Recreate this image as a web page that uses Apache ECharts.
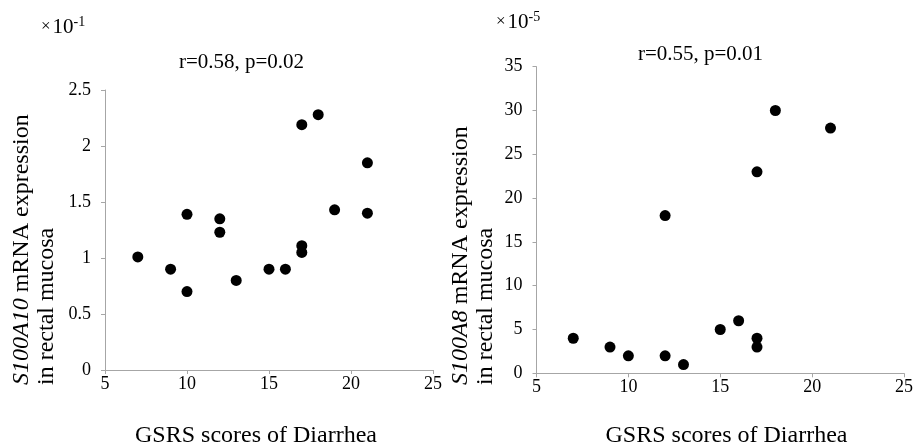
<!DOCTYPE html>
<html>
<head>
<meta charset="utf-8">
<script src="https://cdn.jsdelivr.net/npm/echarts@6/dist/echarts.min.js"></script>
<style>
html,body{margin:0;padding:0;background:#fff;}
#chart{width:916px;height:445px;}
</style>
</head>
<body>
<div id="chart"></div>
<script>
// Left panel: S100A10 (×10^-1) vs GSRS diarrhea score
const leftScores = [7, 9, 10, 10, 12, 12, 13, 15, 16, 17, 17, 17, 18, 19, 21, 21];
const leftExpr   = [1.01, 0.90, 1.39, 0.70, 1.35, 1.23, 0.80, 0.90, 0.90, 2.19, 1.11, 1.05, 2.28, 1.43, 1.85, 1.40];
// Right panel: S100A8 (×10^-5) vs GSRS diarrhea score
const rightScores = [7, 9, 10, 12, 12, 13, 15, 16, 17, 17, 17, 18, 21];
const rightExpr   = [4, 3, 2, 2, 18, 1, 5, 6, 4, 3, 23, 30, 28];

const leftTitle = 'r=0.58, p=0.02';
const rightTitle = 'r=0.55, p=0.01';
const xName = 'GSRS scores of Diarrhea';
const leftGene = 'S100A10';
const rightGene = 'S100A8';
const leftExp = '-1';
const rightExp = '-5';

const FONT = "'Liberation Serif', 'Times New Roman', serif";
const AX = '#a6a6a6';

function pairs(xs, ys) { return xs.map((x, i) => [x, ys[i]]); }

function xAxis(gi) {
  return {
    gridIndex: gi, type: 'value', min: 5, max: 25, interval: 5,
    axisLine: { show: true, lineStyle: { color: AX, width: 1 } },
    axisTick: { show: true, length: 4, lineStyle: { color: AX } },
    splitLine: { show: false },
    axisLabel: { color: '#000', fontFamily: FONT, fontSize: 18, margin: 5 }
  };
}
function yAxis(gi, max, interval) {
  return {
    gridIndex: gi, type: 'value', min: 0, max: max, interval: interval,
    axisLine: { show: true, lineStyle: { color: AX, width: 1 } },
    axisTick: { show: true, length: 4, lineStyle: { color: AX } },
    splitLine: { show: false },
    axisLabel: { color: '#000', fontFamily: FONT, fontSize: 18, margin: 14 }
  };
}

function yNameText(x, gene) {
  return {
    type: 'text', x: x, y: 385, rotation: Math.PI / 2,
    style: {
      text: '{i|' + gene + '} mRNA expression\nin rectal mucosa',
      fontFamily: FONT, fontSize: 24, fill: '#000',
      align: 'left', verticalAlign: 'middle', lineHeight: 25,
      rich: { i: { fontStyle: 'italic', fontFamily: FONT, fontSize: 24, fill: '#000' } }
    }
  };
}
function plain(x, y, text, size, align) {
  return {
    type: 'text', x: x, y: y,
    style: { text: text, fontFamily: FONT, fontSize: size, fill: '#000', align: align || 'center', verticalAlign: 'middle' }
  };
}
function expText(x, y, exp) {
  return {
    type: 'text', x: x, y: y,
    style: {
      text: '{x|×}{n|10}{s|' + exp + '}',
      fontFamily: FONT, fontSize: 20, fill: '#000', align: 'left', verticalAlign: 'middle',
      rich: {
        x: { fontFamily: FONT, fontSize: 17, fill: '#000', padding: [0, 2, 0, 0] },
        n: { fontFamily: FONT, fontSize: 21, fill: '#000' },
        s: { fontFamily: FONT, fontSize: 14, fill: '#000', verticalAlign: 'top', padding: [0, 0, 10, 0] }
      }
    }
  };
}

const chart = echarts.init(document.getElementById('chart'));
chart.setOption({
  backgroundColor: '#fff',
  animation: false,
  grid: [
    { left: 105, right: 483, top: 90, bottom: 75 },
    { left: 536.5, right: 7.7, top: 66.7, bottom: 71.7 }
  ],
  xAxis: [xAxis(0), xAxis(1)],
  yAxis: [yAxis(0, 2.5, 0.5), yAxis(1, 35, 5)],
  series: [
    { type: 'scatter', xAxisIndex: 0, yAxisIndex: 0, data: pairs(leftScores, leftExpr),
      symbol: 'circle', symbolSize: 11, itemStyle: { color: '#000', opacity: 1 } },
    { type: 'scatter', xAxisIndex: 1, yAxisIndex: 1, data: pairs(rightScores, rightExpr),
      symbol: 'circle', symbolSize: 11, itemStyle: { color: '#000', opacity: 1 } }
  ],
  graphic: [
    yNameText(34.5, leftGene),
    yNameText(473.5, rightGene),
    plain(256, 436, xName, 24),
    plain(726.5, 436, xName, 24),
    plain(241.5, 62, leftTitle, 21),
    plain(700.5, 54, rightTitle, 21),
    expText(41, 27, leftExp),
    expText(496, 22, rightExp)
  ]
});
</script>
</body>
</html>
